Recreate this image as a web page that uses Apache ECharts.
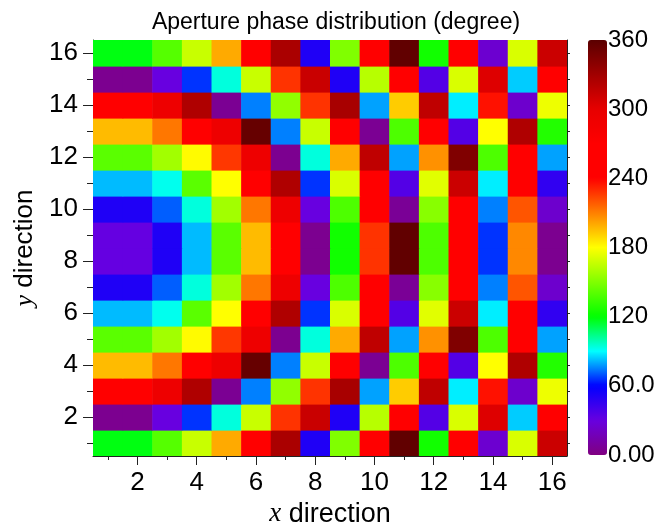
<!DOCTYPE html>
<html>
<head>
<meta charset="utf-8">
<script src="https://cdn.jsdelivr.net/npm/echarts@6/dist/echarts.min.js"></script>
<style>
  html, body { margin: 0; padding: 0; background: #fff; }
  #main { width: 656px; height: 523px; }
</style>
</head>
<body>
<div id="main"></div>
<script>
// cell positions and tick labels
var xCells = [1,2,3,4,5,6,7,8,9,10,11,12,13,14,15,16];
var yCells = [1,2,3,4,5,6,7,8,9,10,11,12,13,14,15,16];
var xTicks = [2,4,6,8,10,12,14,16];
var yTicks = [2,4,6,8,10,12,14,16];

// phase in degrees, one row per y (y = 1 first), columns x = 1..16
var phase = [
  [118,118,140,167,200,255,326, 51,150,260,357,124,255, 25,171,312],
  [  5,  5, 30, 66, 94,167,228,313, 51,163,262, 36,171,304, 84,258],
  [265,265,291,324,  6, 75,154,228,327, 79,192,317, 88,236, 24,176],
  [196,196,212,262,291,355, 75,167,265,  6,138,260, 36,180,324,128],
  [141,141,158,181,227,291,  5, 94,200,317, 79,206,344,138,262, 79],
  [ 82, 82, 92,141,180,258,324, 66,171,262, 36,173,312, 88,260, 46],
  [ 51, 51, 71, 94,158,212,291, 30,138,262,  7,152,265, 75,220, 24],
  [ 31, 31, 51, 82,141,196,262,  5,124,228,357,138,265, 66,208,  5],
  [ 31, 31, 51, 82,141,196,262,  5,124,228,357,138,265, 66,208,  5],
  [ 51, 51, 71, 94,158,212,291, 30,138,262,  7,152,265, 75,220, 24],
  [ 82, 82, 92,141,180,258,324, 66,171,262, 36,173,312, 88,260, 46],
  [141,141,158,181,227,291,  5, 94,200,317, 79,206,344,138,262, 79],
  [196,196,212,262,291,355, 75,167,265,  6,138,260, 36,180,324,128],
  [265,265,291,324,  6, 75,154,228,327, 79,192,317, 88,236, 24,176],
  [  5,  5, 30, 66, 94,167,228,313, 51,163,262, 36,171,304, 84,258],
  [118,118,140,167,200,255,326, 51,150,260,357,124,255, 25,171,312]
];

// colour bar
var barTicks = [0, 60, 120, 180, 240, 300, 360];
var barLabels = ['0.00', '60.0', '120', '180', '240', '300', '360'];
// colours every 30 degrees from 0 to 360
var barColors = ['#800080','#6800e0','#0000ff','#00ffff','#00ff00','#80ff00','#ffff00',
                 '#ff8000','#ff0000','#ff0000','#e70000','#a10000','#5a0000'];

var cells = [];
for (var r = 0; r < yCells.length; r++) {
  for (var c = 0; c < xCells.length; c++) {
    cells.push([xCells[c], yCells[r], phase[r][c]]);
  }
}

var FONT = 'Liberation Sans';
var axisCol = '#222';

function cellAxis(extra) {
  var base = {
    type: 'value', gridIndex: 0, min: 0.5, max: 16.5,
    axisLine: { show: false, onZero: false, lineStyle: { color: axisCol, width: 1 } },
    axisTick: { show: false },
    axisLabel: { show: false },
    splitLine: { show: false }
  };
  return Object.assign(base, extra);
}

var myChart = echarts.init(document.getElementById('main'));

var option = {
  animation: false,
  title: {
    text: 'Aperture phase distribution (degree)',
    left: 331, top: 6, textAlign: 'center',
    textStyle: { fontFamily: FONT, fontSize: 23, fontWeight: 'normal', color: '#000' }
  },
  grid: [
    { left: 93, top: 40, width: 474, height: 416, outerBoundsMode: 'none', containLabel: false },
    { left: 588, top: 40, width: 19, height: 415, outerBoundsMode: 'none', containLabel: false }
  ],
  xAxis: [
    cellAxis({
      position: 'bottom',
      name: '{i|x} direction', nameLocation: 'middle', nameGap: 44,
      nameTextStyle: {
        fontFamily: FONT, fontSize: 27, color: '#000',
        rich: { i: { fontFamily: 'Liberation Serif', fontStyle: 'italic', fontSize: 27, color: '#000' } }
      },
      axisLine: { show: true, onZero: false, lineStyle: { color: axisCol, width: 1 } },
      axisTick: { show: true, customValues: xTicks, length: 9, lineStyle: { color: axisCol, width: 1 } },
      axisLabel: { show: true, customValues: xTicks, margin: 14, fontFamily: FONT, fontSize: 26, color: '#000' }
    }),
    cellAxis({
      position: 'bottom',
      axisTick: { show: true, customValues: xCells, length: 4, lineStyle: { color: axisCol, width: 1 } }
    }),
    { type: 'value', gridIndex: 1, show: false }
  ],
  yAxis: [
    cellAxis({
      position: 'left',
      name: '{i|y} direction', nameLocation: 'middle', nameGap: 55, nameRotate: 90,
      nameTextStyle: {
        fontFamily: FONT, fontSize: 26, color: '#000',
        rich: { i: { fontFamily: 'Liberation Serif', fontStyle: 'italic', fontSize: 26, color: '#000' } }
      },
      axisLine: { show: true, onZero: false, lineStyle: { color: axisCol, width: 1 } },
      axisTick: { show: true, customValues: yTicks, length: 10, lineStyle: { color: axisCol, width: 1 } },
      axisLabel: { show: true, customValues: yTicks, margin: 15, fontFamily: FONT, fontSize: 26, color: '#000' }
    }),
    cellAxis({
      position: 'left',
      axisTick: { show: true, customValues: yCells, length: 6, lineStyle: { color: axisCol, width: 1 } }
    }),
    cellAxis({
      position: 'right',
      axisLine: { show: true, onZero: false, lineStyle: { color: axisCol, width: 1 } },
      axisTick: { show: true, customValues: yCells, length: 3, lineStyle: { color: axisCol, width: 1 } }
    }),
    {
      type: 'value', gridIndex: 1, position: 'right', min: 0, max: 360, interval: 60,
      axisLine: { show: false }, axisTick: { show: false }, splitLine: { show: false },
      axisLabel: {
        show: true, margin: 1, fontFamily: FONT, fontSize: 24, color: '#000',
        formatter: function (v) { return barLabels[barTicks.indexOf(v)]; }
      }
    }
  ],
  visualMap: {
    type: 'continuous', min: 0, max: 360, calculable: false, seriesIndex: 0, dimension: 2,
    left: 588, top: 40, itemWidth: 19, itemHeight: 415, padding: 0,
    inRange: { color: barColors }
  },
  series: [
    {
      type: 'custom', xAxisIndex: 0, yAxisIndex: 0, data: cells,
      encode: { x: 0, y: 1 },
      clip: true,
      renderItem: function (params, api) {
        var p = api.coord([api.value(0) - 0.5, api.value(1) + 0.5]);
        var s = api.size([1, 1]);
        var col = api.visual('color');
        return {
          type: 'rect',
          shape: { x: p[0], y: p[1], width: s[0] + 0.6, height: s[1] + 0.6 },
          style: { fill: col }
        };
      }
    }
  ]
};

myChart.setOption(option);
</script>
</body>
</html>
